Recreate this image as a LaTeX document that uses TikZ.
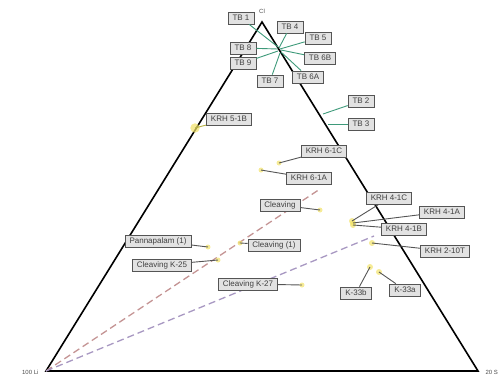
\documentclass[tikz,border=0pt]{standalone}
\usepackage{fontspec}
\setmainfont{Liberation Sans}
\usetikzlibrary{calc}
\definecolor{LeadGray}{HTML}{555555}
\definecolor{BoxGray}{HTML}{E2E2E2}
\definecolor{TBGreen}{HTML}{3E9A7A}
\definecolor{PtYellow}{HTML}{F2E36A}
\definecolor{PtOlive}{HTML}{B5B040}
\definecolor{DashRose}{HTML}{C49494}
\definecolor{DashLilac}{HTML}{A898C2}

\begin{document}
\begin{tikzpicture}[x=1pt,y=-1pt]
    \tikzstyle{lb}=[draw=LeadGray,fill=BoxGray,line width=0.8pt,font=\fontsize{8}{9}\selectfont,text=black!75,inner xsep=4.5pt,inner ysep=0pt,minimum height=12pt]
    \tikzstyle{ld}=[LeadGray,line width=0.9pt]
    \tikzstyle{ldt}=[TBGreen,line width=0.9pt]
    \tikzstyle{pt}=[PtOlive,line width=0.9pt]
    \tikzstyle{glow}=[fill=PtYellow,fill opacity=0.7,draw=none]
    \useasboundingbox (0,0) rectangle (504,378);

    % triangle
    \coordinate (li_c) at (46,371);
    \coordinate (s_c) at (478,371);
    \coordinate (cl_c) at (262,22);
    \draw[line width=1.6pt,line join=miter] (li_c) -- (s_c) -- (cl_c) -- cycle;
    \node[font=\fontsize{6}{7}\selectfont,text=black!70] (cl) at (262,11) {Cl};
    \node[font=\fontsize{6}{7}\selectfont,text=black!70,anchor=east] (li) at (42,372) {100 Li};
    \node[font=\fontsize{6}{7}\selectfont,text=black!70,anchor=west] (s) at (482,372) {20 S};

    % mixing lines
    \coordinate (mix_1_c) at (320,189);
    \coordinate (mix_2_c) at (374,236);
    \draw[DashRose,line width=1.3pt,dash pattern=on 7pt off 4pt] (li_c) -- (mix_1_c);
    \draw[DashLilac,line width=1.3pt,dash pattern=on 7pt off 4pt] (li_c) -- (mix_2_c);

    % top group
    \coordinate (p_tb1) at (278,47);
    \coordinate (p_tb4) at (279,48);
    \coordinate (p_tb5) at (280,49);
    \coordinate (p_tb6b) at (281,50);
    \coordinate (p_tb6a) at (281,52);
    \coordinate (p_tb7) at (280,53);
    \coordinate (p_tb8) at (278,49);
    \coordinate (p_tb9) at (278,51);
    \node[lb] (tb1) at (241,18) {TB 1};
    \node[lb] (tb4) at (290,27) {TB 4};
    \node[lb] (tb5) at (318,38) {TB 5};
    \node[lb] (tb6b) at (320,58) {TB 6B};
    \node[lb] (tb6a) at (308,77) {TB 6A};
    \node[lb] (tb7) at (270,81) {TB 7};
    \node[lb] (tb8) at (243,48) {TB 8};
    \node[lb] (tb9) at (243,63) {TB 9};
    \foreach \n in {tb1,tb4,tb5,tb6b,tb6a,tb7,tb8,tb9}
        \draw[ldt] (\n) -- (p_\n);

    % right edge
    \coordinate (p_tb2) at (323,114);
    \coordinate (p_tb3) at (328,124);
    \node[lb] (tb2) at (361,101) {TB 2};
    \node[lb] (tb3) at (361,124) {TB 3};
    \draw[ldt] (tb2) -- (p_tb2);
    \draw[ldt] (tb3) -- (p_tb3);

    % left edge
    \coordinate (p_krh51b) at (195,128);
    \node[glow] at (p_krh51b) [circle,minimum size=5pt] {};
    \node[lb] (krh51b) at (229,119) {KRH 5-1B};
    \draw[pt] (krh51b) -- (p_krh51b);

    % middle
    \coordinate (p_krh61c) at (279,163);
    \coordinate (p_krh61a) at (261,170);
    \coordinate (p_cleav) at (320,210);
    \coordinate (p_cleav1) at (240,243);
    \coordinate (p_pann) at (208,247);
    \coordinate (p_k25) at (218,260);
    \coordinate (p_k27) at (302,285);
    \foreach \n in {krh61c,krh61a,cleav,cleav1,pann,k25,k27}
        \fill[glow] (p_\n) circle (2.5);
    \node[lb] (krh61c) at (324,151) {KRH 6-1C};
    \node[lb] (krh61a) at (309,178) {KRH 6-1A};
    \node[lb] (cleav) at (280,205) {Cleaving};
    \node[lb] (cleav1) at (274,245) {Cleaving (1)};
    \node[lb] (pann) at (158,241) {Pannapalam (1)};
    \node[lb] (k25) at (162,265) {Cleaving K-25};
    \node[lb] (k27) at (248,284) {Cleaving K-27};
    \foreach \n in {krh61c,krh61a,cleav,cleav1,pann,k25,k27}
        \draw[ld] (\n) -- (p_\n);

    % lower right
    \coordinate (p_krh41c) at (352,221);
    \coordinate (p_krh41a) at (353,223);
    \coordinate (p_krh41b) at (353,225);
    \coordinate (p_krh210t) at (372,243);
    \coordinate (p_k33b) at (370,267);
    \coordinate (p_k33a) at (379,272);
    \foreach \n in {krh41c,krh41a,krh41b,krh210t,k33b,k33a}
        \fill[glow] (p_\n) circle (3);
    \node[lb] (krh41c) at (389,198) {KRH 4-1C};
    \node[lb] (krh41a) at (442,212) {KRH 4-1A};
    \node[lb] (krh41b) at (404,229) {KRH 4-1B};
    \node[lb] (krh210t) at (445,251) {KRH 2-10T};
    \node[lb] (k33b) at (356,293) {K-33b};
    \node[lb] (k33a) at (405,290) {K-33a};
    \foreach \n in {krh41c,krh41a,krh41b,krh210t,k33b,k33a}
        \draw[ld] (\n) -- (p_\n);

\end{tikzpicture}
\end{document}
